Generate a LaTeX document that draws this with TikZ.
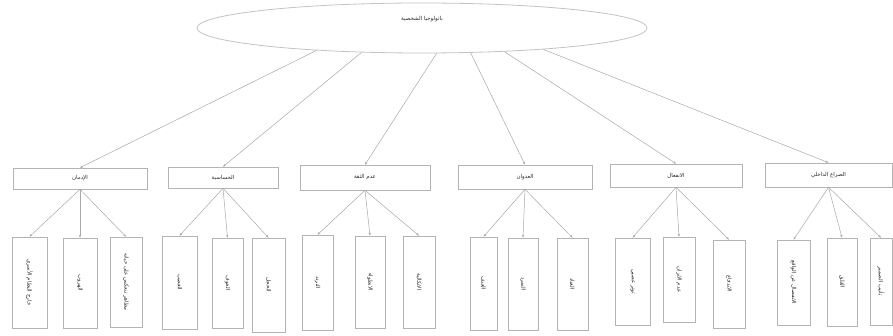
\documentclass[tikz,border=0pt]{standalone}
\usepackage{fontspec}
\usepackage{graphicx}
\usetikzlibrary{shapes.geometric,arrows.meta}
\TeXXeTstate=1
\newfontfamily\arfont[Script=Arabic]{DejaVu Sans}
\newcommand{\ar}[1]{{\arfont\fontsize{5.5}{6}\selectfont\beginR #1\endR}}
\newcommand{\arv}[1]{\rotatebox{-90}{\ar{#1}}}
\definecolor{linegray}{HTML}{A8A8A8}
\definecolor{boxgray}{HTML}{B4B4B4}
\definecolor{txtgray}{HTML}{2A2A2A}
\tikzset{
  topbox/.style={draw=boxgray, line width=0.6pt, rectangle, inner sep=0pt, text=txtgray},
  kidbox/.style={draw=boxgray, line width=0.6pt, rectangle, inner sep=0pt, text=txtgray},
  rootell/.style={draw=boxgray!80, line width=0.8pt, ellipse, inner sep=0pt, text=txtgray,
     minimum width=450pt, minimum height=50pt, text depth=20pt},
  conn/.style={draw=linegray, line width=0.5pt, -{Stealth[length=3pt,width=2.4pt]}}
}
\begin{document}
\begin{tikzpicture}[x=1pt,y=-1pt]
\useasboundingbox (0,0) rectangle (893,336);
% root
\node[rootell] (root) at (422,28) {\ar{باثولوجيا الشخصية}};
% level 1
\node[topbox, minimum width=134pt, minimum height=21pt] (b1) at (80,178.5) {\ar{الإدمان}};
\node[topbox, minimum width=110pt, minimum height=21pt] (b2) at (223,177.5) {\ar{الحساسية}};
\node[topbox, minimum width=130pt, minimum height=25pt] (b3) at (365,177.5) {\ar{عدم الثقة}};
\node[topbox, minimum width=134pt, minimum height=24pt] (b4) at (525,177) {\ar{العدوان}};
\node[topbox, minimum width=132pt, minimum height=23pt] (b5) at (676,175.5) {\ar{الانفعال}};
\node[topbox, minimum width=127pt, minimum height=24pt] (b6) at (828.5,175) {\ar{الصراع الداخلي}};
% root connectors
\draw[conn] (root.192.8) -- (b1.north);
\draw[conn] (root.202.8) -- (b2.north);
\draw[conn] (root.300) -- (b3.north);
\draw[conn] (root.333) -- (b4.north);
\draw[conn] (root.344) -- (b5.north);
\draw[conn] (root.350) -- (b6.north);
% group 1
\node[kidbox, minimum width=35pt, minimum height=91pt] (c11) at (29.5,282.5) {\arv{خارج النظام الأسري}};
\node[kidbox, minimum width=34pt, minimum height=90pt] (c12) at (80,283) {\arv{الهروب}};
\node[kidbox, minimum width=32pt, minimum height=90pt] (c13) at (126,282) {\arv{مظاهر تنعكس على حياته}};
% group 2
\node[kidbox, minimum width=35pt, minimum height=93pt] (c21) at (179.5,282.5) {\arv{الغضب}};
\node[kidbox, minimum width=31pt, minimum height=90pt] (c22) at (227.5,283) {\arv{الخوف}};
\node[kidbox, minimum width=33pt, minimum height=94pt] (c23) at (268.5,285) {\arv{الخجل}};
% group 3
\node[kidbox, minimum width=31pt, minimum height=95pt] (c31) at (317.5,282.5) {\arv{التردد}};
\node[kidbox, minimum width=30pt, minimum height=92pt] (c32) at (370,282) {\arv{الانطواء}};
\node[kidbox, minimum width=32pt, minimum height=92pt] (c33) at (419,282) {\arv{الاتكالية}};
% group 4
\node[kidbox, minimum width=27pt, minimum height=93pt] (c41) at (483.5,283.5) {\arv{العنف}};
\node[kidbox, minimum width=30pt, minimum height=92pt] (c42) at (523,284) {\arv{التمرد}};
\node[kidbox, minimum width=31pt, minimum height=92pt] (c43) at (572.5,284) {\arv{العناد}};
% group 5
\node[kidbox, minimum width=35pt, minimum height=87pt] (c51) at (632.5,281.5) {\arv{توتر عصبي}};
\node[kidbox, minimum width=32pt, minimum height=85pt] (c52) at (679,279.5) {\arv{عدم الاتزان}};
\node[kidbox, minimum width=32pt, minimum height=88pt] (c53) at (729,284) {\arv{الاندفاع}};
% group 6
\node[kidbox, minimum width=33pt, minimum height=85pt] (c61) at (793.5,282.5) {\arv{الانفصال عن الواقع}};
\node[kidbox, minimum width=30pt, minimum height=88pt] (c62) at (842,282) {\arv{القلق}};
\node[kidbox, minimum width=22pt, minimum height=87pt] (c63) at (881,281.5) {\arv{تأنيب الضمير}};
% child connectors
\foreach \g in {1,...,6}{
  \foreach \k in {1,2,3}{
    \draw[conn] (b\g.south) -- (c\g\k.north);
  }
}
\end{tikzpicture}
\end{document}
